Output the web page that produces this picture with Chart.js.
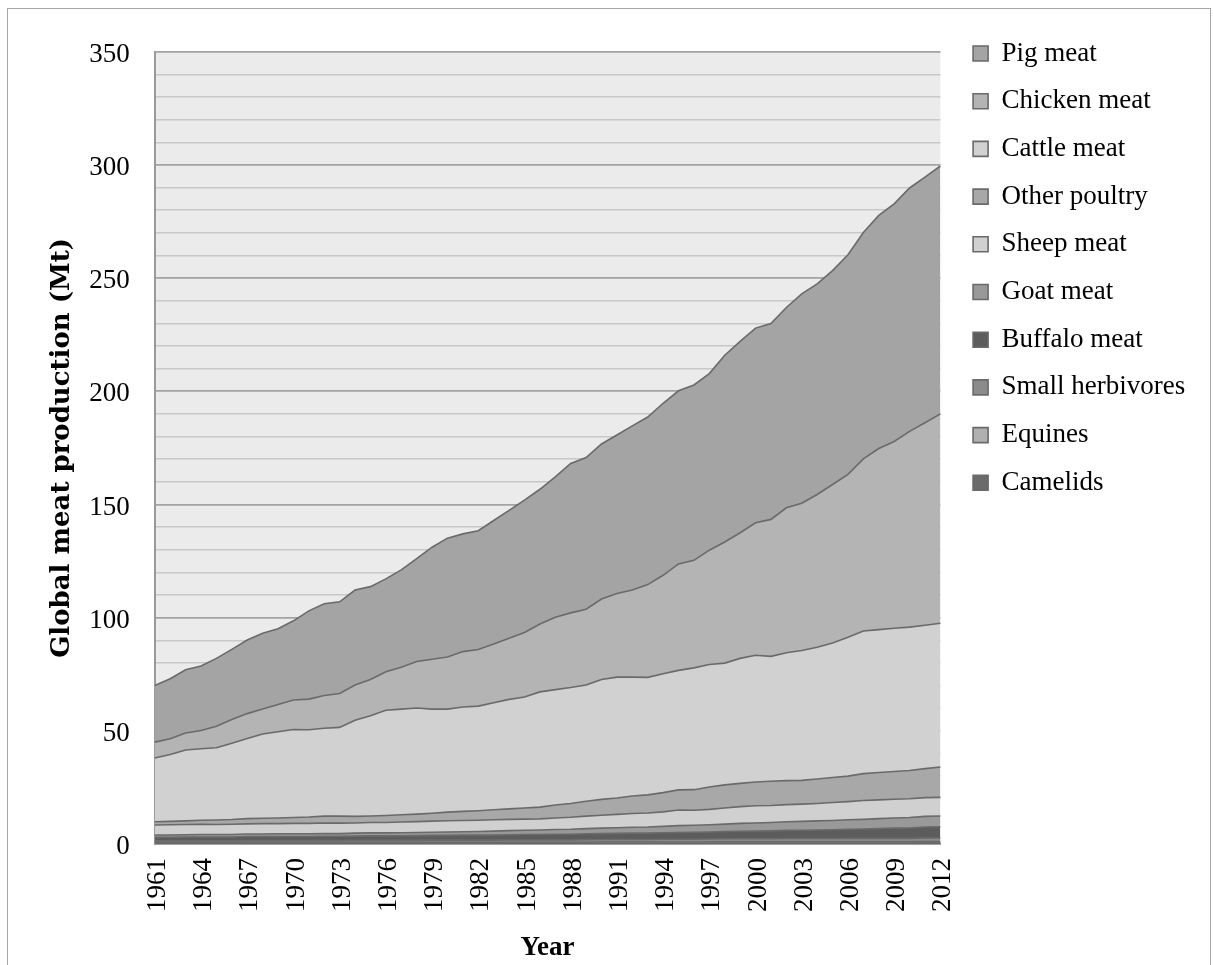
<!DOCTYPE html>
<html>
<head>
<meta charset="utf-8">
<title>Global meat production 1961–2012</title>
<script src="https://cdn.jsdelivr.net/npm/chart.js@4.4.1/dist/chart.umd.min.js"></script>
<style>
  html, body { margin: 0; padding: 0; background: #fff; overflow: hidden; }
  #frame { position: absolute; left: 7px; top: 8px; width: 1204px; height: 1000px;
           border: 1.5px solid #a6a6a6; box-sizing: border-box; }
  #wrap { position: absolute; left: 0; top: 0; width: 1213px; height: 965px; }
</style>
</head>
<body>
<div id="frame"></div>
<div id="wrap"><canvas id="chart" width="1213" height="965"></canvas></div>
<script>
// Years on the category axis
const years = ['1961','1962','1963','1964','1965','1966','1967','1968','1969','1970',
  '1971','1972','1973','1974','1975','1976','1977','1978','1979','1980',
  '1981','1982','1983','1984','1985','1986','1987','1988','1989','1990',
  '1991','1992','1993','1994','1995','1996','1997','1998','1999','2000',
  '2001','2002','2003','2004','2005','2006','2007','2008','2009','2010',
  '2011','2012'];

// Years that carry a visible tick label
const yearTicks = ['1961','1964','1967','1970','1973','1976','1979','1982','1985',
  '1988','1991','1994','1997','2000','2003','2006','2009','2012'];

// Labelled values on the production axis (Mt)
const valueTicks = [0, 50, 100, 150, 200, 250, 300, 350];

// Production per meat type, Mt
const camelids = [0.3,0.3,0.3,0.3,0.3,0.3,0.3,0.3,0.3,0.3,
  0.3,0.3,0.3,0.3,0.3,0.3,0.3,0.3,0.3,0.3,
  0.3,0.3,0.3,0.3,0.3,0.3,0.3,0.3,0.3,0.3,
  0.3,0.3,0.3,0.3,0.3,0.3,0.4,0.4,0.4,0.4,
  0.4,0.4,0.4,0.4,0.4,0.4,0.4,0.4,0.4,0.4,
  0.5,0.5];
const equines = [0.5,0.5,0.5,0.5,0.5,0.5,0.5,0.5,0.5,0.5,
  0.5,0.5,0.5,0.5,0.5,0.5,0.5,0.5,0.5,0.5,
  0.5,0.5,0.5,0.5,0.5,0.5,0.5,0.5,0.5,0.6,
  0.6,0.6,0.6,0.6,0.6,0.6,0.6,0.6,0.6,0.6,
  0.6,0.6,0.6,0.6,0.6,0.6,0.6,0.6,0.6,0.6,
  0.6,0.6];
const smallHerbivores = [0.6,0.6,0.6,0.6,0.6,0.6,0.7,0.7,0.7,0.7,
  0.7,0.7,0.7,0.8,0.8,0.8,0.8,0.8,0.9,0.9,
  0.9,0.9,0.9,1.0,1.0,1.0,1.0,1.0,1.1,1.1,
  1.1,1.1,1.1,1.2,1.2,1.2,1.2,1.3,1.3,1.3,
  1.3,1.4,1.4,1.4,1.4,1.5,1.5,1.5,1.5,1.5,
  1.6,1.6];
const buffaloMeat = [1.6,1.6,1.7,1.7,1.7,1.7,1.8,1.8,1.8,1.8,
  1.8,1.9,1.9,1.9,2.0,2.0,2.0,2.1,2.1,2.1,
  2.2,2.2,2.3,2.3,2.4,2.4,2.5,2.5,2.6,2.6,
  2.7,2.8,2.8,2.9,3.0,3.1,3.1,3.2,3.3,3.4,
  3.5,3.6,3.7,3.8,3.9,4.0,4.1,4.3,4.5,4.6,
  4.8,4.9];
const goatMeat = [1.0,1.0,1.0,1.1,1.1,1.1,1.1,1.1,1.2,1.2,
  1.2,1.2,1.2,1.3,1.3,1.3,1.4,1.4,1.4,1.5,
  1.5,1.6,1.7,1.8,1.9,2.0,2.1,2.2,2.3,2.4,
  2.5,2.6,2.7,2.8,3.0,3.1,3.2,3.3,3.5,3.6,
  3.7,3.8,3.9,4.0,4.1,4.2,4.3,4.4,4.5,4.6,
  4.7,4.8];
const sheepMeat = [4.4,4.5,4.5,4.5,4.4,4.5,4.5,4.6,4.5,4.6,
  4.6,4.7,4.6,4.5,4.6,4.6,4.7,4.8,4.9,5.0,
  5.0,5.0,5.0,5.0,4.9,4.9,5.1,5.3,5.5,5.7,
  5.9,6.1,6.2,6.4,6.9,6.6,6.8,7.1,7.4,7.6,
  7.5,7.6,7.6,7.7,7.9,8.0,8.3,8.3,8.3,8.3,
  8.3,8.2];
const otherPoultry = [1.4,1.5,1.6,1.8,2.0,2.1,2.3,2.4,2.5,2.6,
  2.8,3.0,3.1,2.9,2.9,3.1,3.2,3.3,3.5,3.8,
  4.0,4.2,4.4,4.6,4.9,5.2,5.7,6.1,6.6,7.0,
  7.2,7.7,8.0,8.5,8.9,9.1,9.9,10.2,10.3,10.5,
  10.7,10.6,10.5,10.8,11.1,11.3,11.9,12.1,12.2,12.5,
  12.8,13.4];
const cattleMeat = [28.2,29.5,31.3,31.6,31.9,33.7,35.4,37.2,38.1,38.9,
  38.6,38.8,39.2,42.5,44.3,46.5,46.7,46.9,46.0,45.5,
  46.1,46.2,47.3,48.4,49.0,50.9,51.0,51.2,51.3,53.0,
  53.4,52.5,51.9,52.5,52.8,53.8,54.1,53.8,55.2,56.0,
  55.2,56.5,57.4,58.2,59.4,61.3,63.0,63.1,63.3,63.3,
  63.3,63.5];
const chickenMeat = [7,7,7.5,8,9.5,10.5,11,11,12,13,
  13.5,14.5,15,15.5,16,17,18.5,20.5,22,23,
  24.5,25,26,27,28.5,30,32,33,33.5,35.5,
  37,38.5,41,43.5,47,47.5,50.5,53.5,55.5,58.5,
  60.5,64,65,67.5,70,72,76,80,82.5,86.5,
  89.5,92.5];
const pigMeat = [25,26.5,28,28.5,30,31,32.5,33.5,33.5,35,
  39,40.5,40.5,42,41,41,43,45.5,49.5,52.5,
  52,52.5,54.5,56.5,58.5,59.5,62,66,67,68.5,
  70,72.5,74,76,76.5,77.5,78,82.5,84.5,86,
  86.5,88.5,92.5,93,94.5,97,100,103,105,107.5,
  108.5,109.5];

// Layers from the bottom of the stack upwards
const layers = [
  { label: 'Camelids',         data: camelids,        fill: '#6b6b6b' },
  { label: 'Equines',          data: equines,         fill: '#b0b0b0' },
  { label: 'Small herbivores', data: smallHerbivores, fill: '#8b8b8b' },
  { label: 'Buffalo meat',     data: buffaloMeat,     fill: '#5c5c5c' },
  { label: 'Goat meat',        data: goatMeat,        fill: '#999999' },
  { label: 'Sheep meat',       data: sheepMeat,       fill: '#d0d0d0' },
  { label: 'Other poultry',    data: otherPoultry,    fill: '#a8a8a8' },
  { label: 'Cattle meat',      data: cattleMeat,      fill: '#d1d1d1' },
  { label: 'Chicken meat',     data: chickenMeat,     fill: '#b4b4b4' },
  { label: 'Pig meat',         data: pigMeat,         fill: '#a4a4a4' }
];

const serif = '"Liberation Serif", "Times New Roman", serif';
Chart.defaults.font.family = serif;
Chart.defaults.color = '#000';

// Light grey panel behind the plot area
const plotBackground = {
  id: 'plotBackground',
  beforeDraw(chart) {
    const { ctx, chartArea: { left, top, width, height } } = chart;
    ctx.save();
    ctx.fillStyle = '#ebebeb';
    ctx.fillRect(left, top, width, height);
    ctx.restore();
  }
};

// Legend column sits near the top right, beside the plot
const legendPlacement = {
  id: 'legendPlacement',
  afterLayout(chart) {
    const lg = chart.legend;
    if (!lg) return;
    lg.left += 12; lg.right += 12;
    lg.top -= 32.4; lg.bottom -= 32.4;
  }
};

new Chart(document.getElementById('chart'), {
  type: 'line',
  data: {
    labels: years,
    datasets: layers.map((l, i) => ({
      label: l.label,
      data: l.data,
      backgroundColor: l.fill,
      borderColor: '#6a6a6a',
      borderWidth: 1.6,
      fill: i === 0 ? 'origin' : '-1',
      pointRadius: 0,
      pointHoverRadius: 0,
      tension: 0
    }))
  },
  options: {
    responsive: false,
    animation: false,
    events: [],
    layout: { padding: { top: 51.7, left: 43.1, right: 29.7, bottom: 0 } },
    plugins: {
      legend: {
        position: 'right',
        align: 'start',
        reverse: true,
        labels: {
          font: { size: 27, family: serif },
          color: '#000',
          boxWidth: 15,
          boxHeight: 15,
          padding: 20.7
        }
      },
      tooltip: { enabled: false }
    },
    scales: {
      x: {
        type: 'category',
        offset: false,
        grid: { display: false, drawTicks: false },
        border: { display: true, color: '#a0a0a0', width: 2 },
        ticks: {
          autoSkip: false,
          minRotation: 90,
          maxRotation: 90,
          padding: 14,
          labelOffset: 3,
          font: { size: 27, family: serif },
          color: '#000',
          callback(value, index) {
            const y = years[index];
            return yearTicks.includes(y) ? y : '';
          }
        },
        title: {
          display: true,
          text: 'Year',
          font: { size: 27, weight: 'bold', family: serif },
          color: '#000',
          padding: { top: 5.8, bottom: 0.8 }
        }
      },
      y: {
        stacked: true,
        min: 0,
        max: 350,
        grid: {
          drawTicks: true,
          tickLength: 22,
          tickColor: 'rgba(0,0,0,0)',
          color(ctx) {
            const v = ctx.tick ? ctx.tick.value : 0;
            return v % 50 === 0 ? '#a3a3a3' : '#c8c8c8';
          },
          lineWidth(ctx) {
            const v = ctx.tick ? ctx.tick.value : 0;
            return v % 50 === 0 ? 1.8 : 1.4;
          }
        },
        border: { display: true, color: '#9a9a9a', width: 2 },
        ticks: {
          autoSkip: false,
          stepSize: 10,
          padding: 3,
          labelOffset: 3,
          font: { size: 27, family: serif },
          color: '#000',
          callback(value) {
            return valueTicks.includes(value) ? String(value) : '';
          }
        },
        title: {
          display: true,
          text: 'Global meat production (Mt)',
          font: { size: 26, weight: 'bold', family: '"DejaVu Serif", serif' },
          color: '#000',
          padding: { top: 4, bottom: 8 }
        }
      }
    }
  },
  plugins: [plotBackground, legendPlacement]
});
</script>
</body>
</html>
